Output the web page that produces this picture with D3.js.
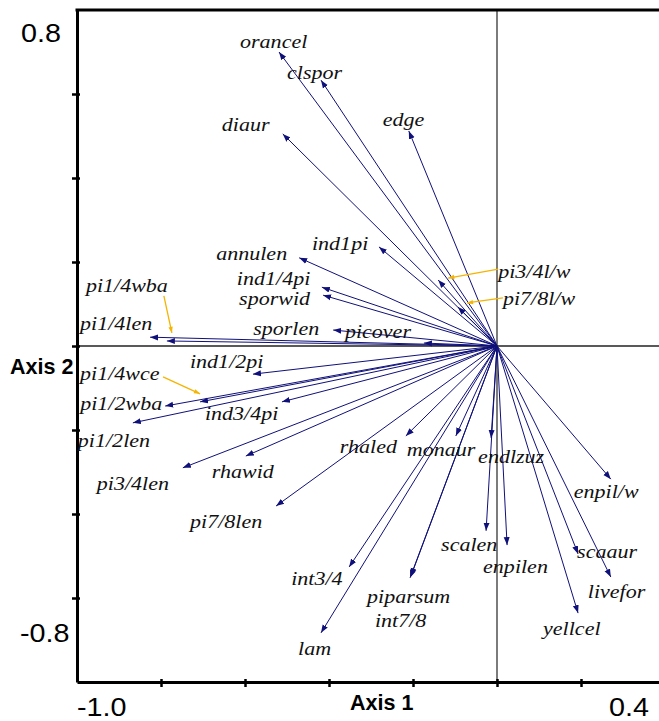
<!DOCTYPE html>
<html>
<head>
<meta charset="utf-8">
<script src="https://cdn.jsdelivr.net/npm/d3@7"></script>
<style>
  html, body { margin: 0; padding: 0; background: #ffffff; }
  svg { display: block; }
</style>
</head>
<body>
<script>
// ---- data ----
const variables = ["orancel","clspor","diaur","edge","ind1pi","annulen","ind1/4pi","sporwid","sporlen","picover",
  "pi1/4len","pi1/4wba","ind1/2pi","pi1/4wce","pi1/2wba","ind3/4pi","pi1/2len","pi3/4len","rhawid","pi7/8len",
  "rhaled","monaur","endlzuz","enpil/w","scalen","enpilen","scaaur","livefor","yellcel","int3/4",
  "piparsum","int7/8","lam","pi3/4l/w","pi7/8l/w"];
const axis1Scores = [-0.519,-0.419,-0.510,-0.210,-0.281,-0.471,-0.417,-0.414,-0.390,-0.174,
  -0.826,-0.786,-0.581,-0.707,-0.790,-0.512,-0.867,-0.748,-0.598,-0.526,
  -0.217,-0.098,-0.014,0.271,-0.026,0.024,0.193,0.271,0.193,-0.352,
  -0.207,-0.205,-0.419,-0.140,-0.093];
const axis2Scores = [0.700,0.633,0.505,0.512,0.236,0.210,0.140,0.121,0.038,0.007,
  0.021,0.012,-0.067,-0.133,-0.143,-0.133,-0.183,-0.290,-0.262,-0.381,
  -0.214,-0.214,-0.219,-0.317,-0.440,-0.474,-0.495,-0.550,-0.636,-0.526,
  -0.552,-0.548,-0.683,0.157,0.093];
const xTicks = [-0.8,-0.6,-0.4,-0.2,0,0.2];
const yTicks = [-0.6,-0.4,-0.2,0,0.2,0.4,0.6];
const xEndLabels = ["-1.0","0.4"];
const yEndLabels = ["0.8","-0.8"];
const xTitle = "Axis 1";
const yTitle = "Axis 2";

// ---- layout (label offsets from arrow tip, px) ----
const labelDx = [-39,-34,-61,-26,-67,-83,-85,-84,-80,-79,
  -70,-81,-63,-120,-85,-77,-55,-86,-34,-86,
  -66,-49,-13,-37,-45,-24,-1,-23,-35,-58,
  -43,-36,-23,60,45];
const labelDy = [-4,-1,-3,-5,3,2,-2,10,5,-5,
  -7,-49,-6,-22,4,18,24,22,22,22,
  17,20,25,19,20,28,4,21,22,18,
  25,51,22,-2,-2];
// leader lines: [variable, start offset from label (dx,dy), end offset from tip (dx,dy)]
const leaders = [
  ["pi1/4wba", 78, 4, 5, -8],
  ["pi1/4wce", 83, -3, 0, -8],
  ["pi3/4l/w", 0, -9, 10, -2],
  ["pi7/8l/w", 0, -7, 9, -4]
];

const W = 659, H = 721;
const x = d3.scaleLinear().domain([-1.0, 0.4]).range([77, 665]);
const y = d3.scaleLinear().domain([-0.8, 0.8]).range([682, 10]);

const svg = d3.select("body").append("svg").attr("width", W).attr("height", H);
svg.append("rect").attr("width", W).attr("height", H).attr("fill", "#fff");

const defs = svg.append("defs");
defs.append("marker").attr("id","arr").attr("markerUnits","userSpaceOnUse")
  .attr("viewBox","0 -4 8 8").attr("refX",8).attr("refY",0)
  .attr("markerWidth",8).attr("markerHeight",8).attr("orient","auto")
  .append("path").attr("d","M0,-3L8,0L0,3Z").attr("fill","#10107a");
defs.append("marker").attr("id","arrO").attr("markerUnits","userSpaceOnUse")
  .attr("viewBox","0 -4 7 8").attr("refX",7).attr("refY",0)
  .attr("markerWidth",7).attr("markerHeight",7).attr("orient","auto")
  .append("path").attr("d","M0,-2.5L7,0L0,2.5Z").attr("fill","#f5b400");

// zero lines
svg.append("line").attr("x1", x(0)).attr("x2", x(0)).attr("y1", y(0.8)).attr("y2", y(-0.8))
  .attr("stroke", "#444").attr("stroke-width", 1.4);
svg.append("line").attr("x1", x(-1)).attr("x2", W).attr("y1", y(0)).attr("y2", y(0))
  .attr("stroke", "#222").attr("stroke-width", 1.3);

// axes
const gL = svg.append("g").attr("transform", `translate(${x(-1)},0)`)
  .call(d3.axisLeft(y).tickValues(yTicks).tickSize(5).tickSizeOuter(0).tickFormat(""));
const gB = svg.append("g").attr("transform", `translate(0,${y(-0.8)})`)
  .call(d3.axisBottom(x).tickValues(xTicks).tickSize(5).tickSizeOuter(0).tickFormat(""));
[gL, gB].forEach(g => {
  g.select(".domain").attr("stroke", "#000").attr("stroke-width", 3);
  g.selectAll(".tick line").attr("stroke", "#000").attr("stroke-width", 2.5);
});
gL.selectAll(".tick line").attr("x1", 3);
gB.selectAll(".tick line").attr("y1", -3);
// top frame line
svg.append("line").attr("x1", x(-1) - 1.5).attr("x2", W).attr("y1", y(0.8)).attr("y2", y(0.8))
  .attr("stroke", "#000").attr("stroke-width", 3);

// arrows
const pts = variables.map((v, i) => ({ name: v, a1: axis1Scores[i], a2: axis2Scores[i], dx: labelDx[i], dy: labelDy[i] }));
svg.append("g").selectAll("line").data(pts).join("line")
  .attr("x1", x(0)).attr("y1", y(0))
  .attr("x2", d => x(d.a1)).attr("y2", d => y(d.a2))
  .attr("stroke", "#10107a").attr("stroke-width", 1)
  .attr("marker-end", "url(#arr)");

// leaders
const byName = Object.fromEntries(pts.map(p => [p.name, p]));
svg.append("g").selectAll("line").data(leaders).join("line")
  .attr("x1", d => x(byName[d[0]].a1) + byName[d[0]].dx + d[1])
  .attr("y1", d => y(byName[d[0]].a2) + byName[d[0]].dy + d[2])
  .attr("x2", d => x(byName[d[0]].a1) + d[3])
  .attr("y2", d => y(byName[d[0]].a2) + d[4])
  .attr("stroke", "#f5b400").attr("stroke-width", 1.3)
  .attr("marker-end", "url(#arrO)");

// labels
svg.append("g").selectAll("text").data(pts).join("text")
  .attr("transform", d => `translate(${x(d.a1) + d.dx},${y(d.a2) + d.dy}) scale(1.13,1)`)
  .attr("font-family", "'Liberation Serif', 'Times New Roman', serif")
  .attr("font-style", "italic").attr("font-size", 19.5).attr("fill", "#111")
  .text(d => d.name);

// end tick labels
const tickFont = "'Liberation Sans', Arial, sans-serif";
svg.append("text").attr("transform", `translate(21,42) scale(1.15,1)`)
  .attr("font-family", tickFont).attr("font-size", 25).text(yEndLabels[0]);
svg.append("text").attr("transform", `translate(20,642) scale(1.15,1)`)
  .attr("font-family", tickFont).attr("font-size", 25).text(yEndLabels[1]);
svg.append("text").attr("transform", `translate(77,716) scale(1.15,1)`)
  .attr("font-family", tickFont).attr("font-size", 25).text(xEndLabels[0]);
svg.append("text").attr("transform", `translate(609,716) scale(1.15,1)`)
  .attr("font-family", tickFont).attr("font-size", 25).text(xEndLabels[1]);

// axis titles
svg.append("text").attr("x", 350).attr("y", 710).attr("font-family", tickFont)
  .attr("font-weight", "bold").attr("font-size", 21.5).text(xTitle);
svg.append("text").attr("x", 10).attr("y", 374).attr("font-family", tickFont)
  .attr("font-weight", "bold").attr("font-size", 21.5).text(yTitle);
</script>
</body>
</html>
